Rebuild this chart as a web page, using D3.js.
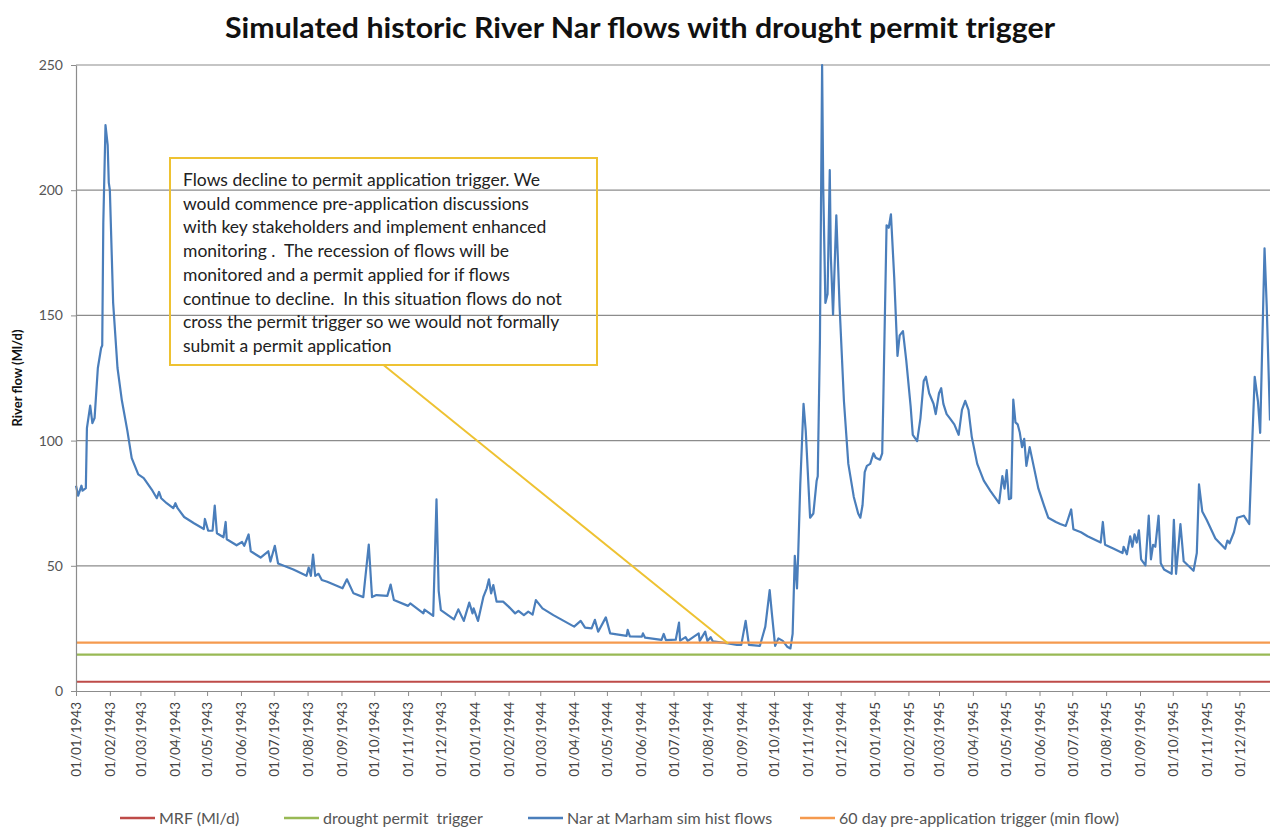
<!DOCTYPE html>
<html>
<head>
<meta charset="utf-8">
<script src="https://cdn.jsdelivr.net/npm/d3@7"></script>
<style>
  body { margin: 0; background: #fff; }
  text { font-family: Lato, "Open Sans", sans-serif; }
</style>
</head>
<body>
<div id="chart"></div>
<script>
var title = "Simulated historic River Nar flows with drought permit trigger";
var yLabel = "River flow (Ml/d)";
var startDate = new Date(1943, 0, 1);
var lastDay = 1093;
var yTicks = [0, 50, 100, 150, 200, 250];

// [days since 01/01/1943, flow Ml/d]
var flowSeries = [
  [0, 82], [2, 78], [5, 82], [6, 80], [9, 81], [10, 105], [13, 114], [15, 107], [17, 109], [20, 129],
  [23, 137], [24, 138], [25, 187], [27, 226], [29, 218], [30, 203], [31, 200], [34, 155], [38, 129], [42, 116],
  [47, 104], [51, 93], [57, 86.5], [62, 85], [70, 80], [74, 77], [76, 79.5], [78, 77], [83, 75], [89, 73],
  [91, 75], [93, 73], [99, 69.5], [108, 67], [117, 64.7], [118, 68.7], [121, 64], [125, 64], [127, 74], [129, 63],
  [135, 61.4], [137, 67.5], [138, 60.6], [147, 58.2], [152, 59.5], [154, 58], [158, 62.5], [160, 55.8], [169, 53.3], [176, 55.8],
  [178, 51.7], [182, 58], [185, 50.9], [199, 48.5], [211, 46], [213, 49.3], [215, 46], [217, 54.5], [219, 46], [222, 46.8],
  [225, 44.3], [230, 43.6], [244, 41], [248, 44.6], [254, 39], [263, 37.5], [268, 58.5], [271, 37.5], [275, 38.3], [285, 38],
  [288, 42.5], [291, 36.3], [304, 34], [306, 35], [318, 31], [319, 32.5], [327, 30], [330, 76.5], [332, 40], [334, 32.3],
  [346, 28.6], [350, 32.6], [355, 28], [360, 35.3], [363, 31], [364, 33], [368, 28], [373, 37.7], [376, 41], [378, 44.6],
  [380, 39], [382, 42.3], [385, 35.7], [391, 35.7], [396, 33.7], [402, 31], [405, 32], [410, 30.3], [414, 31.7], [418, 30.5],
  [421, 36.3], [427, 33], [437, 30.3], [456, 25.7], [462, 28], [466, 25.3], [472, 25], [475, 28.4], [478, 23.7], [485, 29.4],
  [489, 23], [504, 22], [505, 24.4], [507, 21.8], [518, 21.7], [519, 23], [521, 21.3], [536, 20.4], [538, 22.8], [540, 20.3],
  [549, 20.5], [552, 27.3], [553, 20.1], [558, 21.5], [560, 20], [570, 23], [571, 20], [576, 23.7], [578, 20], [581, 21.5],
  [583, 19.8], [597, 19], [605, 18.4], [609, 18.4], [613, 28], [616, 18.4], [626, 18], [631, 25.7], [635, 40.3], [637, 31],
  [640, 18], [643, 21], [647, 20], [651, 17.7], [654, 17], [656, 22.8], [658, 54], [660, 41], [661, 53], [663, 82.5],
  [666, 114.7], [668, 104], [672, 69.2], [675, 70.9], [678, 84], [679, 85.8], [681, 140], [683, 250], [684, 201.7], [686, 155],
  [688, 158.6], [690, 208], [691, 173.5], [693, 150.3], [696, 190], [699, 153.6], [703, 115.6], [707, 90.7], [712, 77.5], [716, 70.9],
  [718, 69.2], [720, 74.2], [722, 87.4], [724, 89.9], [727, 90.7], [730, 94.9], [732, 93.2], [736, 92.4], [738, 94.9], [739, 115.6],
  [742, 186], [744, 185], [746, 190.4], [749, 165.2], [752, 133.8], [754, 142], [757, 143.7], [760, 132.1], [764, 113.9], [766, 102.3],
  [770, 99.8], [773, 108.9], [776, 123.8], [778, 125.5], [781, 118.9], [785, 114.7], [787, 110.6], [790, 118.9], [792, 120.9], [794, 114.7],
  [797, 110.6], [800, 108.9], [804, 106.5], [808, 102.3], [811, 112.3], [814, 115.9], [817, 112.3], [820, 101.5], [825, 90.7], [831, 84],
  [837, 79.9], [845, 75], [848, 85.8], [850, 80.8], [852, 88.2], [854, 76.6], [856, 77], [858, 116.4], [860, 107.3], [862, 106.5],
  [864, 103.1], [866, 97.4], [868, 100.7], [870, 89.9], [873, 97.4], [877, 89.1], [881, 80.8], [886, 74.2], [890, 69.2], [897, 67.5],
  [901, 66.7], [906, 65.9], [908, 68.5], [911, 72.5], [913, 64.6], [920, 63.4], [926, 61.8], [938, 59.3], [940, 67.5], [942, 58.4],
  [950, 56.8], [958, 55.1], [959, 57.6], [962, 54.6], [965, 61.8], [967, 57.6], [969, 62.6], [971, 59.3], [973, 64.2], [975, 52.6],
  [979, 50.2], [982, 70], [984, 52.6], [986, 58.4], [988, 57.6], [991, 70], [993, 51], [996, 48.5], [1003, 46.8], [1005, 68.4],
  [1007, 46.8], [1011, 66.7], [1014, 51.8], [1023, 48], [1026, 55.1], [1028, 82.5], [1031, 71.7], [1035, 68.4], [1043, 60.9], [1052, 56.8],
  [1054, 60.1], [1056, 59], [1060, 63.4], [1063, 69.2], [1069, 70], [1074, 66.7], [1076, 90.7], [1079, 125.5], [1082, 115.6], [1084, 103.1],
  [1088, 176.8], [1090, 153.6], [1093, 108]
];

// constant trigger levels
var mrfLevel = 3.7;
var droughtLevel = 14.5;
var preAppLevel = 19.3;

var seriesNames = ["MRF (Ml/d)", "drought permit  trigger", "Nar at Marham sim hist flows", "60 day pre-application trigger (min flow)"];
var seriesColors = ["#be4b48", "#98b954", "#4a7ebb", "#f59a4e"];

var noteLines = [
  "Flows decline to permit application trigger. We",
  "would commence pre-application discussions",
  "with key stakeholders and implement enhanced",
  "monitoring .  The recession of flows will be",
  "monitored and a permit applied for if flows",
  "continue to decline.  In this situation flows do not",
  "cross the permit trigger so we would not formally",
  "submit a permit application"
];
var noteDay = 597, noteValue = 19;

var W = 1270, H = 829;
var margin = { left: 76, right: 0, top: 65, bottom: 138 };

var svg = d3.select("#chart").append("svg")
  .attr("width", W).attr("height", H)
  .style("display", "block");

var day = function (d) { return d3.timeDay.offset(startDate, d); };

var x = d3.scaleTime()
  .domain([startDate, day(lastDay)])
  .range([margin.left, W - margin.right]);
var y = d3.scaleLinear()
  .domain([0, 250])
  .range([H - margin.bottom, margin.top]);

var grey = "#8c8c8c";

// gridlines
svg.append("g").selectAll("line")
  .data(yTicks.slice(1))
  .join("line")
  .attr("x1", margin.left).attr("x2", W - margin.right)
  .attr("y1", y).attr("y2", y)
  .attr("stroke", grey).attr("stroke-width", 1.2);

// title
svg.append("text")
  .attr("x", 640).attr("y", 38)
  .attr("text-anchor", "middle")
  .attr("font-size", 28).attr("font-weight", "bold")
  .attr("textLength", 830).attr("lengthAdjust", "spacingAndGlyphs")
  .attr("fill", "#111")
  .text(title);

// y label
svg.append("text")
  .attr("transform", "translate(22," + y(125) + ") rotate(-90)")
  .attr("text-anchor", "middle")
  .attr("font-size", 13).attr("font-weight", "bold")
  .attr("fill", "#111")
  .text(yLabel);

// trigger lines
var levels = [mrfLevel, droughtLevel];
levels.forEach(function (v, i) {
  svg.append("line")
    .attr("x1", margin.left).attr("x2", W - margin.right)
    .attr("y1", y(v)).attr("y2", y(v))
    .attr("stroke", seriesColors[i]).attr("stroke-width", 2.2);
});

var line = d3.line()
  .x(function (d) { return x(day(d[0])); })
  .y(function (d) { return y(d[1]); });

svg.append("path")
  .datum(flowSeries)
  .attr("d", line)
  .attr("fill", "none")
  .attr("stroke", seriesColors[2])
  .attr("stroke-width", 2.2)
  .attr("stroke-linejoin", "round");

svg.append("line")
  .attr("x1", margin.left).attr("x2", W - margin.right)
  .attr("y1", y(preAppLevel)).attr("y2", y(preAppLevel))
  .attr("stroke", seriesColors[3]).attr("stroke-width", 2.2);

// axes
var months = d3.timeMonth.range(startDate, day(lastDay));
var xAxis = d3.axisBottom(x)
  .tickValues(months)
  .tickFormat(d3.timeFormat("%d/%m/%Y"))
  .tickSize(5).tickSizeOuter(0);

var gx = svg.append("g")
  .attr("transform", "translate(0," + y(0) + ")")
  .call(xAxis);
gx.select(".domain").attr("stroke", grey).attr("stroke-width", 1.2);
gx.selectAll(".tick line").attr("stroke", grey);
gx.selectAll(".tick text")
  .attr("transform", "rotate(-90)")
  .attr("text-anchor", "end")
  .attr("x", -11).attr("y", 0).attr("dy", "0.35em")
  .attr("font-size", 13.5)
  .attr("font-family", "Lato, sans-serif")
  .attr("fill", "#444");

var gy = svg.append("g")
  .attr("transform", "translate(" + margin.left + ",0)")
  .call(d3.axisLeft(y).tickValues(yTicks).tickSize(5).tickSizeOuter(0).tickPadding(8));
gy.select(".domain").attr("stroke", grey).attr("stroke-width", 1.2);
gy.selectAll(".tick line").attr("stroke", grey);
gy.selectAll(".tick text")
  .attr("font-size", 14)
  .attr("font-family", "Lato, sans-serif")
  .attr("fill", "#555");

// annotation
var noteColor = "#eec232";
var box = { x: 170, y: 158, w: 427, h: 207 };
svg.append("line")
  .attr("x1", box.x + box.w / 2).attr("y1", box.y + box.h)
  .attr("x2", x(day(noteDay))).attr("y2", y(noteValue))
  .attr("stroke", noteColor).attr("stroke-width", 2);
svg.append("rect")
  .attr("x", box.x).attr("y", box.y)
  .attr("width", box.w).attr("height", box.h)
  .attr("fill", "none")
  .attr("stroke", noteColor).attr("stroke-width", 2);
svg.append("g").selectAll("text")
  .data(noteLines)
  .join("text")
  .attr("x", box.x + 13)
  .attr("y", function (d, i) { return box.y + 28 + i * 23.7; })
  .attr("font-size", 17.5)
  .attr("fill", "#222")
  .style("white-space", "pre")
  .text(function (d) { return d; });

// legend
var legendX = [120, 284, 528, 800];
var legend = svg.append("g").attr("transform", "translate(0,818)");
seriesNames.forEach(function (name, i) {
  legend.append("line")
    .attr("x1", legendX[i]).attr("x2", legendX[i] + 35)
    .attr("stroke", seriesColors[i]).attr("stroke-width", 2.5);
  legend.append("text")
    .attr("x", legendX[i] + 39).attr("dy", "0.35em")
    .attr("font-size", 16)
    .attr("fill", "#555")
    .style("white-space", "pre")
    .text(name);
});
</script>
</body>
</html>
